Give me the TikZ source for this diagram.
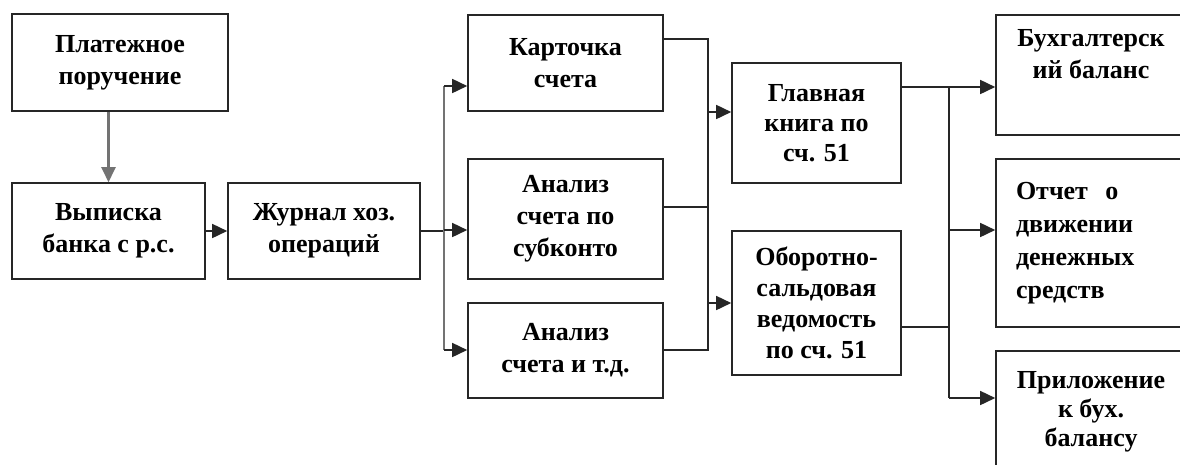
\documentclass[tikz,border=0pt]{standalone}
\usepackage{fontspec}
\setmainfont{Liberation Serif}
\usetikzlibrary{arrows.meta}
\begin{document}
\begin{tikzpicture}[x=1pt,y=-1pt,
  box/.style={draw=black!85, line width=1.6pt, fill=white, align=center, inner sep=0pt,
    font=\bfseries\fontsize{26}{32}\selectfont},
  conn/.style={draw=black!85, line width=1.6pt},
  arr/.style={conn, -{Triangle[length=15pt,width=14pt]}},
  gconn/.style={draw=black!55, line width=2.4pt},
  garr/.style={gconn, -{Triangle[length=15pt,width=14pt]}, line cap=butt}]
\path[use as bounding box, clip] (0,0) rectangle (1180,464);
\fill[white] (0,0) rectangle (1180,464);
% column 1
\node[box, minimum width=216, minimum height=97] (pp) at (120,62.5) {Платежное\\поручение};
\node[box, minimum width=193, minimum height=96] (vb) at (108.5,231) {Выписка\\банка с р.с.};
\node[box, minimum width=192, minimum height=96] (zh) at (324,231) {Журнал хоз.\\операций};
% column 2
\node[box, minimum width=195, minimum height=96] (ks) at (565.5,63) {Карточка\\счета};
\node[box, minimum width=195, minimum height=120] (as) at (565.5,219) {Анализ\\счета по\\субконто};
\node[box, minimum width=195, minimum height=95] (at) at (565.5,350.5) {Анализ\\счета и т.д.};
% column 3
\node[box, minimum width=169, minimum height=120, font=\bfseries\fontsize{26}{30}\selectfont] (gk) at (816.5,123) {Главная\\книга по\\сч. 51};
\node[box, minimum width=169, minimum height=144, font=\bfseries\fontsize{26}{31}\selectfont] (os) at (816.5,303) {Оборотно-\\сальдовая\\ведомость\\по сч. 51};
% column 4
\node[box, minimum width=190, minimum height=120] (bb) at (1091,75) {Бухгалтерск\\ий баланс\\\strut};
\node[box, minimum width=190, minimum height=168, text width=150, align=left, font=\bfseries\fontsize{26}{33}\selectfont] (od) at (1091,243) {Отчет\ \ о\\движении\\денежных\\средств};
\node[box, minimum width=190, minimum height=122, font=\bfseries\fontsize{26}{29}\selectfont] (pb) at (1091,412) {Приложение\\к бух.\\балансу};
% bus coordinates
\coordinate (b1) at (444,231);
\coordinate (b1t) at (444,86);
\coordinate (b1m) at (444,230);
\coordinate (b1b) at (444,350);
\coordinate (b2t) at (708,39);
\coordinate (b2m) at (708,207);
\coordinate (b2b) at (708,350);
\coordinate (b2g) at (708,112);
\coordinate (b2o) at (708,303);
\coordinate (b3t) at (949,87);
\coordinate (b3o) at (949,327);
\coordinate (b3m) at (949,230);
\coordinate (b3b) at (949,398);
% connectors
\draw[garr] (pp.south -| vb.north) -- (vb.north);
\draw[arr] (vb.east) -- (zh.west);
\draw[conn] (zh.east) -- (b1);
\draw[gconn] (b1t) -- (b1b);
\draw[arr] (b1t) -- (b1t -| ks.west);
\draw[arr] (b1m) -- (b1m -| as.west);
\draw[arr] (b1b) -- (b1b -| at.west);
\draw[conn] (b2t -| ks.east) -- (b2t) -- (b2b) -- (b2b -| at.east);
\draw[conn] (b2m -| as.east) -- (b2m);
\draw[arr] (b2g) -- (b2g -| gk.west);
\draw[arr] (b2o) -- (b2o -| os.west);
\draw[arr] (b3t -| gk.east) -- (b3t -| bb.west);
\draw[conn] (b3t) -- (b3b);
\draw[conn] (b3o -| os.east) -- (b3o);
\draw[arr] (b3m) -- (b3m -| od.west);
\draw[arr] (b3b) -- (b3b -| pb.west);
\end{tikzpicture}
\end{document}
